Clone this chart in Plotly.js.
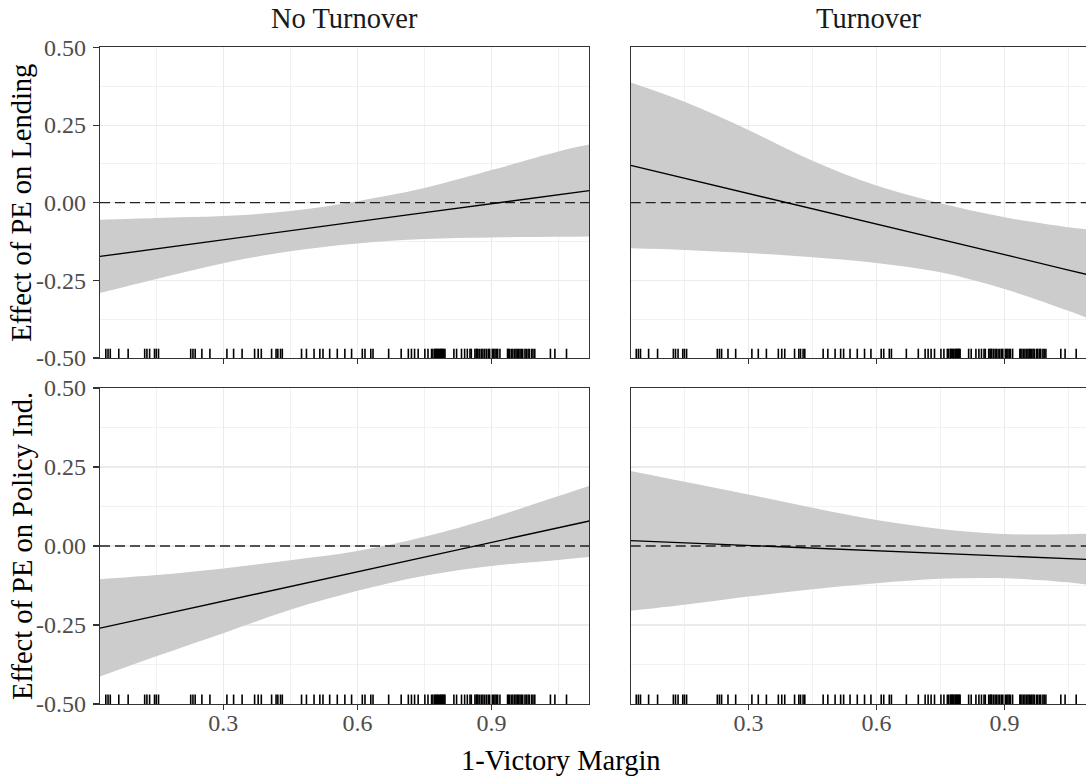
<!DOCTYPE html>
<html>
<head>
<meta charset="utf-8">
<script src="https://cdn.plot.ly/plotly-3.0.1.min.js"></script>
<style>html,body{margin:0;padding:0;background:#fff;}#chart{width:1086px;height:777px;}</style>
</head>
<body>
<div id="chart"></div>
<script>
// ---------- data ----------
const facetCols = ["No Turnover", "Turnover"];
const facetRows = ["Effect of PE on Lending", "Effect of PE on Policy Ind."];
const xTitle = "1-Victory Margin";

const xGrid = [0.024, 0.15, 0.30, 0.45, 0.60, 0.75, 0.90, 1.05, 1.119];

// Lending, No Turnover
const lendNoFit = [-0.173, -0.149, -0.120, -0.091, -0.061, -0.032, -0.003, 0.026, 0.039];
const lendNoHi  = [-0.055, -0.049, -0.043, -0.027, 0.005, 0.047, 0.105, 0.165, 0.187];
const lendNoLo  = [-0.291, -0.246, -0.195, -0.156, -0.131, -0.117, -0.112, -0.110, -0.109];
// Lending, Turnover
const lendTuFit = [0.120, 0.079, 0.029, -0.020, -0.069, -0.118, -0.167, -0.217, -0.239];
const lendTuHi  = [0.387, 0.325, 0.234, 0.135, 0.055, -0.002, -0.047, -0.079, -0.090];
const lendTuLo  = [-0.147, -0.152, -0.162, -0.176, -0.194, -0.224, -0.278, -0.348, -0.385];
// Policy, No Turnover
const polNoFit = [-0.260, -0.221, -0.175, -0.128, -0.082, -0.035, 0.011, 0.058, 0.079];
const polNoHi  = [-0.105, -0.092, -0.071, -0.045, -0.016, 0.029, 0.089, 0.158, 0.191];
const polNoLo  = [-0.413, -0.349, -0.276, -0.202, -0.142, -0.094, -0.063, -0.044, -0.035];
// Policy, Turnover
const polTuFit = [0.017, 0.010, 0.002, -0.007, -0.015, -0.023, -0.031, -0.040, -0.044];
const polTuHi  = [0.237, 0.203, 0.163, 0.121, 0.082, 0.054, 0.038, 0.037, 0.040];
const polTuLo  = [-0.205, -0.186, -0.160, -0.137, -0.118, -0.104, -0.102, -0.115, -0.128];

// observed values of 1-Victory Margin (rug)
const rugX = [0.037, 0.042, 0.047, 0.066, 0.087, 0.124, 0.129, 0.135, 0.146, 0.150, 0.155,
  0.227, 0.232, 0.237, 0.252, 0.270, 0.308, 0.323, 0.342, 0.370, 0.378, 0.385,
  0.408, 0.418, 0.422, 0.428, 0.432, 0.475, 0.486, 0.503, 0.516, 0.523, 0.538,
  0.555, 0.572, 0.587, 0.611, 0.617, 0.630, 0.635, 0.670, 0.698, 0.714, 0.721,
  0.728, 0.736, 0.751, 0.758, 0.766, 0.769, 0.773, 0.775, 0.777, 0.779, 0.781, 0.784,
  0.786, 0.788, 0.790, 0.792, 0.794, 0.796, 0.816, 0.822, 0.833, 0.840, 0.846, 0.852,
  0.855, 0.863, 0.866, 0.868, 0.870, 0.874, 0.878, 0.881, 0.885, 0.889, 0.893, 0.896,
  0.902, 0.905, 0.908, 0.911, 0.914, 0.919, 0.936, 0.938, 0.941, 0.945, 0.948, 0.952,
  0.955, 0.958, 0.961, 0.964, 0.967, 0.970, 0.975, 0.978, 0.982, 0.985, 0.990, 0.993,
  0.997, 1.032, 1.042, 1.068];

const refValue = 0;
const xRangeLeft = [0.024, 1.119];
const xRangeRight = [0.024, 1.091];
const yRange = [-0.5, 0.5];
const xTickVals = [0.3, 0.6, 0.9];
const xTickText = ["0.3", "0.6", "0.9"];
const xMinorVals = [0.15, 0.45, 0.75, 1.05];
const yTickVals = [-0.5, -0.25, 0, 0.25, 0.5];
const yTickText = ["-0.50", "-0.25", "0.00", "0.25", "0.50"];
const yMinorVals = [-0.375, -0.125, 0.125, 0.375];

// ---------- build ----------
const W = 1086, H = 777;
const FONT = "Liberation Serif, Times New Roman, serif";
const panels = [
  {xa: "x",  ya: "y",  fit: lendNoFit, hi: lendNoHi, lo: lendNoLo, xr: xRangeLeft},
  {xa: "x2", ya: "y2", fit: lendTuFit, hi: lendTuHi, lo: lendTuLo, xr: xRangeLeft},
  {xa: "x3", ya: "y3", fit: polNoFit,  hi: polNoHi,  lo: polNoLo,  xr: xRangeLeft},
  {xa: "x4", ya: "y4", fit: polTuFit,  hi: polTuHi,  lo: polTuLo,  xr: xRangeLeft}
];

const rugTop = yRange[0] + 0.03 * (yRange[1] - yRange[0]);
const rugXs = [], rugYs = [];
rugX.forEach(v => { rugXs.push(v, v, null); rugYs.push(yRange[0], rugTop, null); });

const traces = [];
panels.forEach(p => {
  traces.push({x: xGrid, y: p.lo, xaxis: p.xa, yaxis: p.ya, mode: "lines",
    line: {width: 0, shape: "spline", smoothing: 1, color: "#CCCCCC"}, hoverinfo: "skip", showlegend: false});
  traces.push({x: xGrid, y: p.hi, xaxis: p.xa, yaxis: p.ya, mode: "lines", fill: "tonexty",
    fillcolor: "#CCCCCC", line: {width: 0, shape: "spline", smoothing: 1, color: "#CCCCCC"}, hoverinfo: "skip", showlegend: false});
  traces.push({x: p.xr, y: [refValue, refValue], xaxis: p.xa, yaxis: p.ya, mode: "lines",
    line: {color: "#222222", width: 1.3, dash: "10px,5px"}, hoverinfo: "skip", showlegend: false});
  traces.push({x: xGrid, y: p.fit, xaxis: p.xa, yaxis: p.ya, mode: "lines",
    line: {color: "#000000", width: 1.4}, showlegend: false});
  traces.push({x: rugXs, y: rugYs, xaxis: p.xa, yaxis: p.ya, mode: "lines",
    line: {color: "#000000", width: 1.6}, hoverinfo: "skip", showlegend: false});
});

// panel geometry (pixels)
const L = {x0: 100, x1: 589.3}, R = {x0: 630.7, x1: 1086};
const T = {y0: 47.4, y1: 358}, B = {y0: 388, y1: 704};
const dx = (a) => [a.x0 / W, a.x1 / W];
const dy = (a) => [1 - a.y1 / H, 1 - a.y0 / H];

const tickFont = {family: FONT, size: 24, color: "#4D4D4D"};
function xAxis(domain, anchor, range, labels, mirror) {
  return {domain, anchor, range, tickmode: "array", tickvals: xTickVals, ticktext: xTickText,
    showticklabels: labels, ticks: "outside", ticklen: 5, tickwidth: 1.1, tickcolor: "#333333",
    showgrid: true, gridcolor: "#EBEBEB", gridwidth: 1.1,
    minor: {tickmode: "array", tickvals: xMinorVals, showgrid: true, gridcolor: "#EBEBEB", gridwidth: 0.7},
    showline: true, linecolor: "#333333", linewidth: 1.1, mirror: mirror, zeroline: false,
    tickfont: tickFont, ticklabelstandoff: -8, fixedrange: true};
}
function yAxis(domain, anchor, labels, mirror) {
  return {domain, anchor, range: yRange, tickmode: "array", tickvals: yTickVals, ticktext: yTickText,
    showticklabels: labels, ticks: labels ? "outside" : "", ticklen: 6, tickwidth: 1.1, tickcolor: "#333333",
    showgrid: true, gridcolor: "#EBEBEB", gridwidth: 1.1,
    minor: {tickmode: "array", tickvals: yMinorVals, showgrid: true, gridcolor: "#EBEBEB", gridwidth: 0.7},
    showline: true, linecolor: "#333333", linewidth: 1.1, mirror: mirror, zeroline: false,
    tickfont: tickFont, ticklabelstandoff: 2, fixedrange: true};
}

const titleFont = {family: FONT, size: 28.5, color: "#000000"};
const stripFont = {family: FONT, size: 28.5, color: "#1A1A1A"};
const layout = {
  width: W, height: H, margin: {l: 0, r: 0, t: 0, b: 0},
  paper_bgcolor: "#FFFFFF", plot_bgcolor: "#FFFFFF", showlegend: false,
  font: {family: FONT},
  xaxis:  xAxis(dx(L), "y",  xRangeLeft,  false, true),
  xaxis2: xAxis(dx(R), "y2", xRangeRight, false, true),
  xaxis3: xAxis(dx(L), "y3", xRangeLeft,  true,  true),
  xaxis4: xAxis(dx(R), "y4", xRangeRight, true,  true),
  yaxis:  yAxis(dy(T), "x",  true,  true),
  yaxis2: yAxis(dy(T), "x2", false, false),
  yaxis3: yAxis(dy(B), "x3", true,  true),
  yaxis4: yAxis(dy(B), "x4", false, false),
  annotations: [
    {text: facetCols[0], x: 344.7 / W, y: 1 - 19 / H, xref: "paper", yref: "paper",
      xanchor: "center", yanchor: "middle", showarrow: false, font: stripFont},
    {text: facetCols[1], x: 869 / W, y: 1 - 19 / H, xref: "paper", yref: "paper",
      xanchor: "center", yanchor: "middle", showarrow: false, font: stripFont},
    {text: facetRows[0], x: 22 / W, y: 1 - 202.7 / H, xref: "paper", yref: "paper", textangle: -90,
      xanchor: "center", yanchor: "middle", showarrow: false, font: titleFont},
    {text: facetRows[1], x: 22 / W, y: 1 - 546 / H, xref: "paper", yref: "paper", textangle: -90,
      xanchor: "center", yanchor: "middle", showarrow: false, font: titleFont},
    {text: xTitle, x: 561 / W, y: 1 - 760 / H, xref: "paper", yref: "paper",
      xanchor: "center", yanchor: "middle", showarrow: false, font: titleFont}
  ]
};

Plotly.newPlot("chart", traces, layout, {staticPlot: true, displayModeBar: false});
</script>
</body>
</html>
